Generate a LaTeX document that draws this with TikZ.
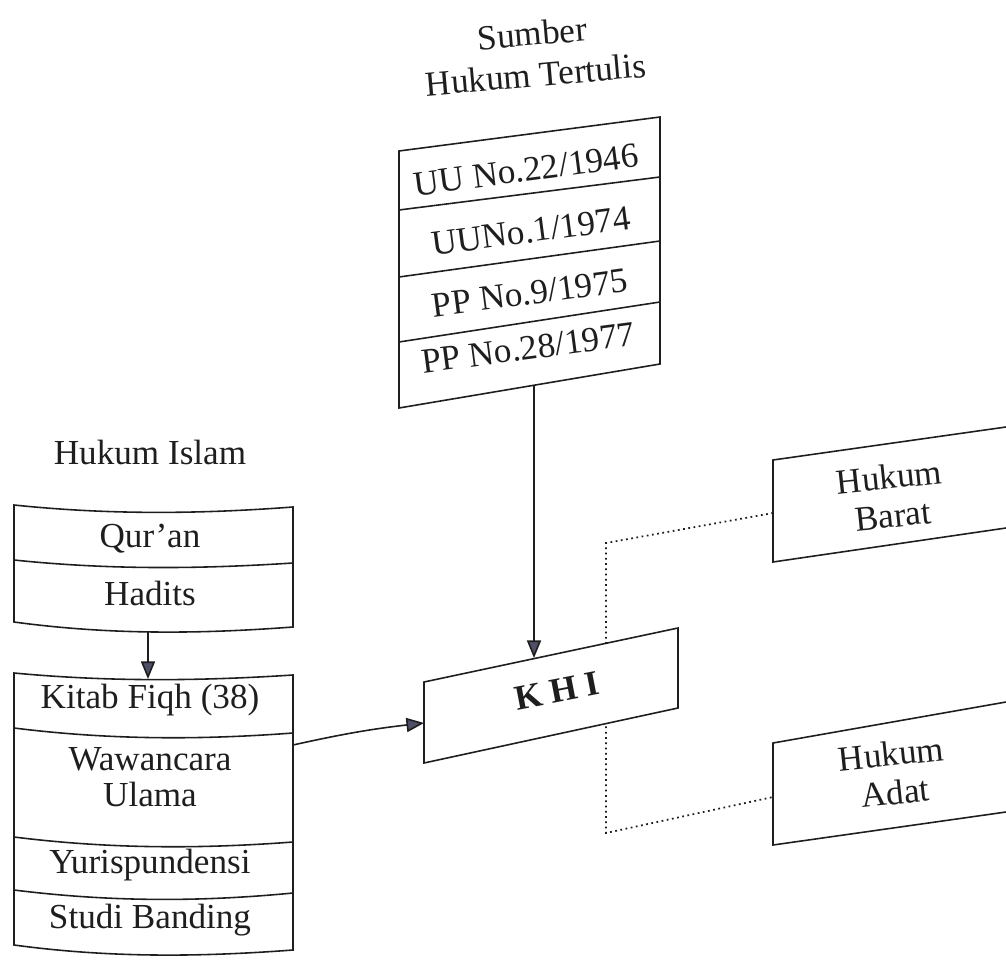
\documentclass[tikz,border=0pt]{standalone}
\usepackage{fontspec}
\setmainfont{Liberation Serif}
\usetikzlibrary{arrows.meta}
\definecolor{headfill}{RGB}{78,80,104}
\definecolor{inkgray}{RGB}{30,30,30}
\tikzset{
  lbl/.style={font=\fontsize{20}{20}\selectfont, inner sep=0pt, text=inkgray, align=center},
  boxline/.style={line width=0.9pt, draw=inkgray},
  arr/.style={line width=0.9pt, draw=inkgray, -{Triangle[length=10pt,width=8pt,fill=headfill]}},
  dots/.style={dotted, line width=1pt, draw=inkgray}
}
\begin{document}
\begin{tikzpicture}[x=0.02cm, y=-0.02cm]
  \useasboundingbox (0,0) rectangle (1006,959);

  % 标题
  \node[lbl, rotate=5, font=\fontsize{20}{23.5}\selectfont] (sumber) at (534,54) {Sumber\\Hukum Tertulis};
  \node[lbl] (islam) at (150,452) {Hukum Islam};

  % 成文法来源 (上方框)
  \draw[boxline] (399,151) -- (660,117) -- (660,364) -- (399,408) -- cycle;
  \foreach \yl/\yr in {210/177, 277/241, 342/302} {
    \draw[boxline] (399,\yl) -- (660,\yr);
  }
  \node[lbl, rotate=7.5] (uu22) at (526,170) {UU No.22/1946};
  \node[lbl, rotate=7.5] (uu1) at (531,231) {UUNo.1/1974};
  \node[lbl, rotate=7.5] (pp9) at (530,293) {PP No.9/1975};
  \node[lbl, rotate=7.5] (pp28) at (528,348) {PP No.28/1977};
  \coordinate (tertulisbot) at (534,385);

  % 伊斯兰法 (左侧两框, 边线略弯)
  \draw[boxline] (14,505) .. controls (110,515) and (200,514) .. (293,507)
    -- (293,627) .. controls (200,634) and (110,635) .. (14,622) -- cycle;
  \draw[boxline] (14,560) .. controls (110,570) and (200,569) .. (293,563);
  \node[lbl] (quran) at (150,539) {Qur'an};
  \node[lbl] (hadits) at (150,593) {Hadits};
  \coordinate (haditsbot) at (148,632);

  \draw[boxline] (14,673) .. controls (110,682) and (200,681) .. (293,675)
    -- (293,950) .. controls (200,957) and (110,958) .. (14,945) -- cycle;
  \foreach \yl/\ym/\yr in {728/740/733, 837/849/842, 890/902/893} {
    \draw[boxline] (14,\yl) .. controls (110,\ym) and (200,\ym) .. (293,\yr);
  }
  \node[lbl] (kitab) at (150,700) {Kitab Fiqh (38)};
  \node[lbl, font=\fontsize{20}{20.5}\selectfont] (wawancara) at (150,777) {Wawancara\\Ulama};
  \node[lbl] (yuris) at (150,865) {Yurispundensi};
  \node[lbl] (studi) at (150,920) {Studi Banding};
  \coordinate (kitabtop) at (148,679);
  \coordinate (islamright) at (293,745);

  % 虚线连接 (在 KHI 框后面)
  \coordinate (baratin) at (773,513);
  \coordinate (adatin) at (773,797);
  \draw[dots] (baratin) -- (606,543) -- (606,833) -- (adatin);

  % KHI 框
  \draw[boxline, fill=white] (424,682) -- (678,628) -- (678,708) -- (424,763) -- cycle;
  \node[font=\bfseries\fontsize{20}{22}\selectfont, inner sep=0pt, text=inkgray, rotate=11]
    (khi) at (557,691) {K H I};
  \coordinate (khitop) at (534,658);
  \coordinate (khileft) at (424,723);

  % 西方法与习惯法 (右侧, 被页面截断)
  \draw[boxline] (1006,427) -- (773,460) -- (773,562) -- (1006,528);
  \node[lbl, rotate=6, font=\fontsize{20}{22}\selectfont] (barat) at (891,496) {Hukum\\Barat};
  \draw[boxline] (1006,702) -- (773,743) -- (773,845) -- (1006,812);
  \node[lbl, rotate=6, font=\fontsize{20}{22}\selectfont] (adat) at (893,773) {Hukum\\Adat};

  % 箭头
  \draw[arr] (tertulisbot) -- (khitop);
  \draw[arr] (haditsbot) -- (kitabtop);
  \draw[arr] (islamright) to[bend left=3] (khileft);
\end{tikzpicture}
\end{document}
